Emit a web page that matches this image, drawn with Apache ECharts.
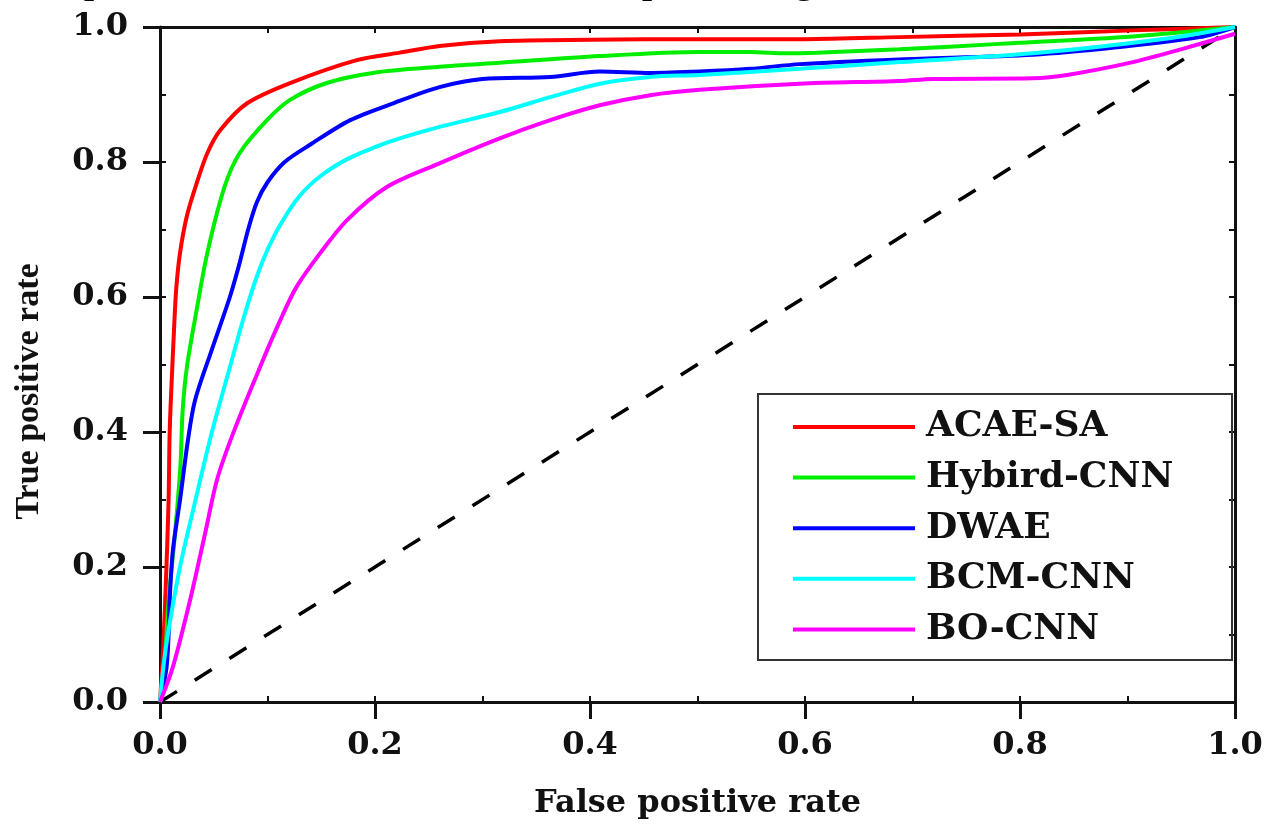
<!DOCTYPE html>
<html>
<head>
<meta charset="utf-8">
<script src="https://cdn.jsdelivr.net/npm/echarts@6/dist/echarts.min.js"></script>
<style>html,body{margin:0;padding:0;background:#fff}#c{width:1274px;height:825px}</style>
</head>
<body>
<div id="c"></div>
<script>
const titleText = 'Graph 4: Predictive Performance of Deep Learning vs. Traditional Models';
const seriesNames = ['ACAE-SA', 'Hybird-CNN', 'DWAE', 'BCM-CNN', 'BO-CNN'];
const xTicks = ['0.0', '0.2', '0.4', '0.6', '0.8', '1.0'];

const acaeSA = [[0,0],[0.003,0.08],[0.006,0.2],[0.008,0.3],[0.009,0.4],[0.011,0.48],[0.013,0.55],[0.015,0.61],[0.0186,0.665],[0.025,0.72],[0.034,0.768],[0.044,0.813],[0.056,0.847],[0.081,0.887],[0.121,0.917],[0.183,0.951],[0.223,0.962],[0.26,0.972],[0.316,0.979],[0.4,0.981],[0.5,0.982],[0.6,0.982],[0.688,0.985],[0.8,0.989],[0.905,0.995],[1,1]];
const hybirdCNN = [[0,0],[0.004,0.05],[0.008,0.15],[0.014,0.25],[0.019,0.35],[0.021,0.43],[0.025,0.496],[0.034,0.58],[0.044,0.665],[0.060,0.763],[0.074,0.813],[0.0995,0.862],[0.121,0.892],[0.155,0.917],[0.198,0.932],[0.26,0.941],[0.316,0.947],[0.409,0.957],[0.502,0.963],[0.549,0.963],[0.583,0.961],[0.611,0.962],[0.688,0.967],[0.781,0.975],[0.905,0.986],[1,1]];
const dwae = [[0,0],[0.006,0.05],[0.008,0.1],[0.009,0.151],[0.012,0.225],[0.0186,0.299],[0.026,0.388],[0.0326,0.447],[0.048,0.521],[0.065,0.6],[0.074,0.65],[0.082,0.7],[0.09,0.74],[0.1,0.77],[0.116,0.8],[0.14,0.826],[0.177,0.862],[0.217,0.887],[0.26,0.911],[0.3,0.923],[0.363,0.926],[0.409,0.934],[0.456,0.932],[0.502,0.934],[0.549,0.938],[0.595,0.945],[0.688,0.952],[0.812,0.959],[0.89,0.97],[0.967,0.985],[1,1]];
const bcmCNN = [[0,0],[0.003,0.05],[0.0075,0.102],[0.0186,0.2],[0.033,0.299],[0.048,0.398],[0.065,0.496],[0.078,0.57],[0.09,0.63],[0.1,0.67],[0.113,0.71],[0.13,0.75],[0.15,0.78],[0.175,0.805],[0.2,0.822],[0.223,0.835],[0.26,0.852],[0.316,0.874],[0.363,0.896],[0.409,0.916],[0.456,0.926],[0.502,0.929],[0.595,0.938],[0.688,0.948],[0.812,0.961],[0.937,0.983],[1,1]];
const boCNN = [[0,0],[0.012,0.052],[0.028,0.151],[0.042,0.25],[0.053,0.329],[0.068,0.398],[0.093,0.496],[0.112,0.566],[0.127,0.615],[0.149,0.665],[0.174,0.714],[0.211,0.763],[0.26,0.798],[0.316,0.835],[0.363,0.862],[0.409,0.884],[0.456,0.899],[0.502,0.907],[0.595,0.916],[0.688,0.92],[0.719,0.923],[0.812,0.924],[0.844,0.929],[0.905,0.948],[0.952,0.968],[1,0.99]];
const chanceLine = [[0,0],[1,1]];

const colors = ['#ff0000', '#00ee00', '#0000ff', '#00ffff', '#ff00ff'];
const allData = [acaeSA, hybirdCNN, dwae, bcmCNN, boCNN];

const chart = echarts.init(document.getElementById('c'));
const axisColor = '#111';
const tickFont = {fontFamily: 'DejaVu Serif', fontWeight: 'bold', fontSize: 32, color: '#111'};

const lineSeries = seriesNames.map((n, i) => ({
  name: n, type: 'line', data: allData[i], showSymbol: false, symbol: 'none',
  smooth: 0.3, lineStyle: {color: colors[i], width: 4}, itemStyle: {color: colors[i]},
  xAxisIndex: 0, yAxisIndex: 0, z: 3, silent: true
}));

chart.setOption({
  animation: false,
  backgroundColor: '#fff',
  title: {
    text: titleText, left: 22, top: -34, padding: 0,
    textStyle: {fontFamily: 'Liberation Serif', fontWeight: 'bold', fontSize: 36, color: '#000'}
  },
  grid: {left: 160, right: 39, top: 27, bottom: 123, containLabel: false},
  legend: {
    data: seriesNames, orient: 'vertical', left: 793, top: 407, padding: 0,
    icon: 'rect', itemWidth: 122, itemHeight: 4, itemGap: 10.6,
    textStyle: {fontFamily: 'DejaVu Serif', fontWeight: 'bold', fontSize: 36, color: '#111', lineHeight: 40, padding: [0,0,0,6]}
  },
  graphic: [{
    type: 'rect', shape: {x: 758, y: 394, width: 474, height: 266},
    style: {fill: 'rgba(0,0,0,0)', stroke: '#333', lineWidth: 2}, z: 10, silent: true
  }],
  xAxis: [{
    type: 'value', min: 0, max: 1, interval: 0.2, position: 'bottom',
    name: 'False positive rate', nameLocation: 'middle', nameGap: 86,
    nameTextStyle: {fontFamily: 'DejaVu Serif', fontWeight: 'bold', fontSize: 32, color: '#111'},
    axisLine: {show: true, onZero: false, lineStyle: {color: axisColor, width: 3}},
    axisTick: {show: true, inside: false, length: 17, lineStyle: {color: axisColor, width: 3}},
    axisLabel: Object.assign({margin: 28, formatter: (v) => xTicks[Math.round(v / 0.2)]}, tickFont),
    splitLine: {show: false}
  }, {
    type: 'value', min: 0, max: 1, interval: 0.1, position: 'top',
    axisLine: {show: true, onZero: false, lineStyle: {color: axisColor, width: 3}},
    axisTick: {show: true, inside: true, length: 6, lineStyle: {color: axisColor, width: 2}},
    axisLabel: {show: false}, splitLine: {show: false}
  }, {
    type: 'value', min: 0, max: 1, interval: 0.1, position: 'bottom',
    axisLine: {show: false, onZero: false},
    axisTick: {show: true, inside: true, length: 6, lineStyle: {color: axisColor, width: 2}},
    axisLabel: {show: false}, splitLine: {show: false}
  }],
  yAxis: [{
    type: 'value', min: 0, max: 1, interval: 0.2, position: 'left',
    name: 'True positive rate', nameLocation: 'middle', nameGap: 114,
    nameTextStyle: {fontFamily: 'Liberation Serif', fontWeight: 'bold', fontSize: 34, color: '#111', padding: [0, 54, 0, 0]},
    axisLine: {show: true, onZero: false, lineStyle: {color: axisColor, width: 3}},
    axisTick: {show: true, inside: false, length: 17, lineStyle: {color: axisColor, width: 3}},
    axisLabel: Object.assign({margin: 32, formatter: (v) => v.toFixed(1)}, tickFont),
    splitLine: {show: false}
  }, {
    type: 'value', min: 0, max: 1, interval: 0.1, position: 'right',
    axisLine: {show: true, onZero: false, lineStyle: {color: axisColor, width: 3}},
    axisTick: {show: true, inside: true, length: 6, lineStyle: {color: axisColor, width: 2}},
    axisLabel: {show: false}, splitLine: {show: false}
  }, {
    type: 'value', min: 0, max: 1, interval: 0.1, position: 'left',
    axisLine: {show: false, onZero: false},
    axisTick: {show: true, inside: true, length: 6, lineStyle: {color: axisColor, width: 2}},
    axisLabel: {show: false}, splitLine: {show: false}
  }],
  series: [{
    name: 'chance', type: 'line', data: chanceLine, showSymbol: false, symbol: 'none',
    lineStyle: {color: '#000', width: 3.5, type: [20, 21]}, xAxisIndex: 0, yAxisIndex: 0, z: 2, silent: true
  }].concat(lineSeries)
});
</script>
</body>
</html>
